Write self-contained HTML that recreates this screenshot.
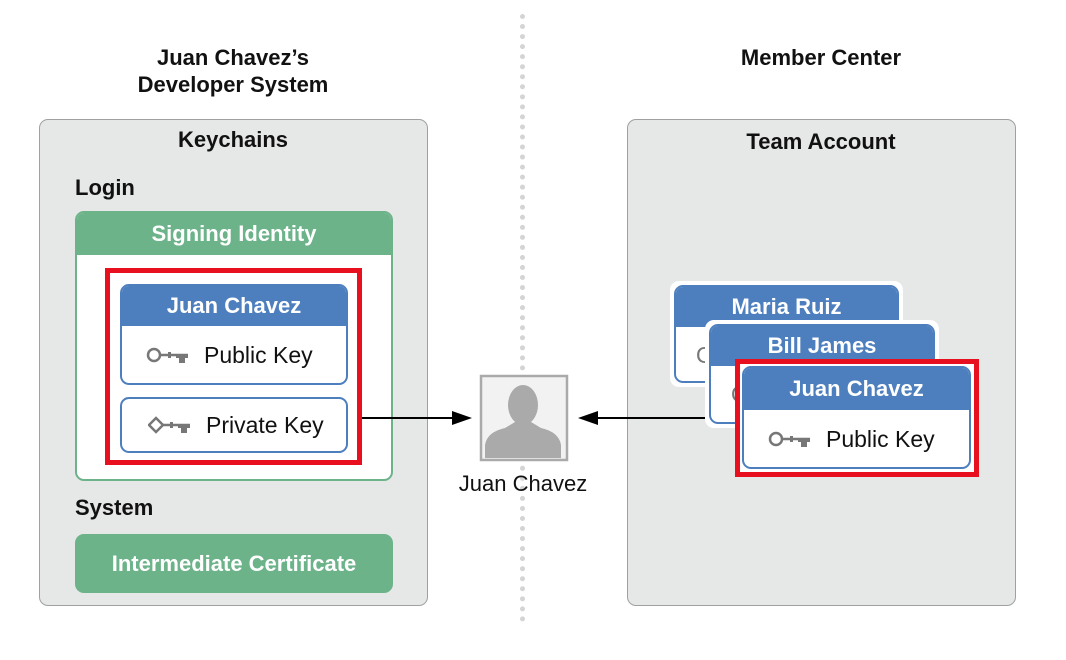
<!DOCTYPE html>
<html><head><style>
body{margin:0;width:1066px;height:660px;background:#fff;font-family:"Liberation Sans",Arial,sans-serif;position:relative;overflow:hidden}
.a{position:absolute;box-sizing:border-box}
.t{position:absolute;font-weight:bold;font-size:22px;color:#111;text-align:center}
.panel{background:#e6e7e7;border:1.5px solid #a0a0a0;border-radius:9px}
.card{background:#fff;border:2px solid #4d7fbf;border-radius:9px;overflow:hidden}
.hd{background:#4d7fbf;color:#fff;font-weight:bold;font-size:22px;text-align:center}
.key{font-size:23px;color:#111;display:flex;align-items:center}
.key svg{margin-right:14px}
</style></head><body>
<div class="t" style="left:83px;top:44px;width:300px;line-height:27px">Juan Chavez’s<br>Developer System</div>
<div class="t" style="left:671px;top:44px;width:300px;line-height:27px">Member Center</div>
<div class="a" style="left:520px;top:14px;height:608px;border-left:5px dotted #d4d4d4"></div>
<div class="a panel" style="left:39px;top:119px;width:389px;height:487px"></div>
<div class="a panel" style="left:627px;top:119px;width:389px;height:487px"></div>
<div class="t" style="left:83px;top:127px;width:300px">Keychains</div>
<div class="t" style="left:671px;top:129px;width:300px">Team Account</div>
<div class="t" style="left:75px;top:175px;text-align:left">Login</div>
<div class="t" style="left:75px;top:495px;text-align:left">System</div>
<div class="a" style="left:75px;top:211px;width:318px;height:270px;background:#fff;border:2px solid #6db38a;border-radius:9px;overflow:hidden">
 <div style="background:#6db38a;height:42px;line-height:42px;color:#fff;font-weight:bold;font-size:22px;text-align:center">Signing Identity</div>
</div>
<div class="a" style="left:105px;top:268px;width:257px;height:197px;border:5px solid #e8101e"></div>
<div class="a card" style="left:120px;top:284px;width:228px;height:101px">
 <div class="hd" style="height:40px;line-height:40px">Juan Chavez</div>
 <div class="key" style="height:58px;padding-left:24px"><svg width="44" height="18"><circle cx="8" cy="9" r="6" fill="none" stroke="#777" stroke-width="2.5"/><path d="M14 9H42" stroke="#777" stroke-width="2.5"/><rect x="22" y="6" width="3" height="6" fill="#777"/><rect x="30" y="8" width="12" height="4" fill="#777"/><rect x="33" y="10" width="6" height="7" fill="#777"/></svg>Public Key</div>
</div>
<div class="a card" style="left:120px;top:397px;width:228px;height:56px">
 <div class="key" style="height:52px;padding-left:26px"><svg width="44" height="18"><path d="M8 2L15 9L8 16L1 9Z" fill="none" stroke="#777" stroke-width="2.5"/><path d="M15 9H42" stroke="#777" stroke-width="2.5"/><rect x="22" y="6" width="3" height="6" fill="#777"/><rect x="30" y="8" width="12" height="4" fill="#777"/><rect x="33" y="10" width="6" height="7" fill="#777"/></svg>Private Key</div>
</div>
<div class="a" style="left:75px;top:534px;width:318px;height:59px;background:#6db38a;border-radius:9px;color:#fff;font-weight:bold;font-size:22px;text-align:center;line-height:59px">Intermediate Certificate</div>
<svg class="a" style="left:0;top:0" width="1066" height="660">
 <line x1="362" y1="418" x2="455" y2="418" stroke="#000" stroke-width="2"/>
 <polygon points="472,418 452,411 452,425" fill="#000"/>
 <line x1="595" y1="418" x2="740" y2="418" stroke="#000" stroke-width="2"/>
 <polygon points="578,418 598,411 598,425" fill="#000"/>
 <rect x="481" y="376" width="86" height="84" fill="#f2f2f2" stroke="#aaa" stroke-width="2.5"/>
 <ellipse cx="523" cy="405" rx="15" ry="20" fill="#aaa"/>
 <path d="M485,458 L485,445 Q487,432 505,428 L515,422 L531,422 L541,428 Q559,432 561,445 L561,458 Z" fill="#aaa"/>
</svg>
<div class="a" style="left:443px;top:471px;width:160px;text-align:center;font-size:22px;color:#111">Juan Chavez</div>
<div class="a card" style="left:670px;top:281px;width:233px;height:106px;border:4px solid #fff;background:#fff;padding:0">
 <div class="a card" style="left:0;top:0;width:225px;height:98px">
  <div class="hd" style="height:40px;line-height:40px">Maria Ruiz</div>
  <div class="key" style="padding-left:20px;height:56px;color:#777">O</div>
 </div>
</div>
<div class="a card" style="left:705px;top:320px;width:234px;height:108px;border:4px solid #fff;background:#fff">
 <div class="a card" style="left:0;top:0;width:226px;height:100px">
  <div class="hd" style="height:40px;line-height:40px">Bill James</div>
  <div class="key" style="padding-left:20px;height:56px;color:#777">O</div>
 </div>
</div>
<div class="a" style="left:735px;top:359px;width:244px;height:118px;border:5px solid #e8101e;background:#fff"></div>
<div class="a card" style="left:742px;top:366px;width:229px;height:103px">
 <div class="hd" style="height:42px;line-height:42px">Juan Chavez</div>
 <div class="key" style="height:58px;padding-left:24px"><svg width="44" height="18"><circle cx="8" cy="9" r="6" fill="none" stroke="#777" stroke-width="2.5"/><path d="M14 9H42" stroke="#777" stroke-width="2.5"/><rect x="22" y="6" width="3" height="6" fill="#777"/><rect x="30" y="8" width="12" height="4" fill="#777"/><rect x="33" y="10" width="6" height="7" fill="#777"/></svg>Public Key</div>
</div>
</body></html>
